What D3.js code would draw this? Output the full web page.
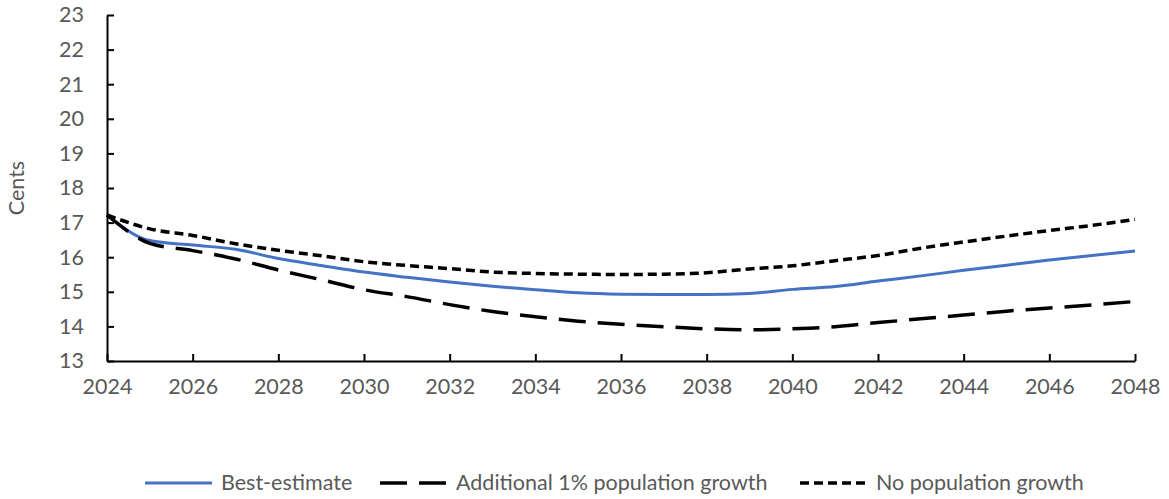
<!DOCTYPE html>
<html>
<head>
<meta charset="utf-8">
<script src="https://cdn.jsdelivr.net/npm/d3@7"></script>
<style>
  body { margin: 0; background: #fff; }
  text { font-family: Lato, "Open Sans", sans-serif; fill: #595959; }
</style>
</head>
<body>
<script>
var years = d3.range(2024, 2049);
var bestEstimate = [17.22, 16.48, 16.35, 16.23, 15.96, 15.76, 15.57, 15.42, 15.28, 15.16, 15.06, 14.97, 14.93,
                    14.92, 14.92, 14.95, 15.07, 15.15, 15.31, 15.46, 15.62, 15.77, 15.92, 16.05, 16.18];
var additional = [17.22, 16.4, 16.19, 15.95, 15.63, 15.35, 15.06, 14.86, 14.63, 14.43, 14.28, 14.15, 14.06,
                  13.99, 13.93, 13.9, 13.93, 13.99, 14.11, 14.22, 14.33, 14.44, 14.53, 14.62, 14.72];
var noGrowth = [17.22, 16.82, 16.63, 16.39, 16.2, 16.04, 15.87, 15.76, 15.67, 15.57, 15.53, 15.51, 15.5,
                15.51, 15.55, 15.66, 15.75, 15.9, 16.05, 16.26, 16.44, 16.61, 16.77, 16.92, 17.09];
var seriesNames = ["Best-estimate", "Additional 1% population growth", "No population growth"];
var xTicks = d3.range(2024, 2049, 2);
var yTicks = d3.range(13, 24);

var width = 1169, height = 499;
var margin = {left: 107, right: 34, top: 15, bottom: 138};
var fontSize = "21.5px";

var svg = d3.select("body").append("svg")
    .attr("width", width)
    .attr("height", height);

var x = d3.scaleLinear().domain([2024, 2048]).range([margin.left, width - margin.right]);
var y = d3.scaleLinear().domain([13, 23]).range([height - margin.bottom, margin.top]);

// lines
var series = [
  {name: seriesNames[0], values: bestEstimate, color: "#4472C4", width: 3, dash: null},
  {name: seriesNames[1], values: additional, color: "#000", width: 3.5, dash: "27,12"},
  {name: seriesNames[2], values: noGrowth, color: "#000", width: 3.5, dash: "9,5"}
];

var line = d3.line()
    .x(function(d, i) { return x(years[i]); })
    .y(function(d) { return y(d); })
    .curve(d3.curveMonotoneX);

series.forEach(function(s) {
  svg.append("path")
      .datum(s.values)
      .attr("d", line)
      .attr("fill", "none")
      .attr("stroke", s.color)
      .attr("stroke-width", s.width)
      .attr("stroke-dasharray", s.dash);
});

// axes
var xAxis = svg.append("g")
    .attr("transform", "translate(0," + y(13) + ")")
    .call(d3.axisBottom(x).tickValues(xTicks).tickFormat(d3.format("d")).tickSizeInner(-7).tickSizeOuter(0).tickPadding(18));
var yAxis = svg.append("g")
    .attr("transform", "translate(" + x(2024) + ",0)")
    .call(d3.axisLeft(y).tickValues(yTicks).tickSizeInner(-7).tickSizeOuter(0).tickPadding(23));

[xAxis, yAxis].forEach(function(a) {
  a.select(".domain").attr("stroke", "#000").attr("stroke-width", 2);
  a.selectAll(".tick line").attr("stroke", "#000").attr("stroke-width", 2);
  a.selectAll(".tick text").style("font-size", fontSize).attr("fill", "#595959");
});

svg.append("text")
    .attr("transform", "translate(24," + y(18) + ") rotate(-90)")
    .attr("text-anchor", "middle")
    .style("font-size", fontSize)
    .text("Cents");

// legend
var legendX = [145, 380, 800];
var legend = svg.append("g").attr("transform", "translate(0,483)");
series.forEach(function(s, i) {
  legend.append("line")
      .attr("x1", legendX[i]).attr("x2", legendX[i] + 67)
      .attr("y1", 0).attr("y2", 0)
      .attr("stroke", s.color)
      .attr("stroke-width", s.width)
      .attr("stroke-dasharray", s.dash);
  legend.append("text")
      .attr("x", legendX[i] + 76)
      .attr("y", 7)
      .style("font-size", fontSize)
      .text(s.name);
});
</script>
</body>
</html>
